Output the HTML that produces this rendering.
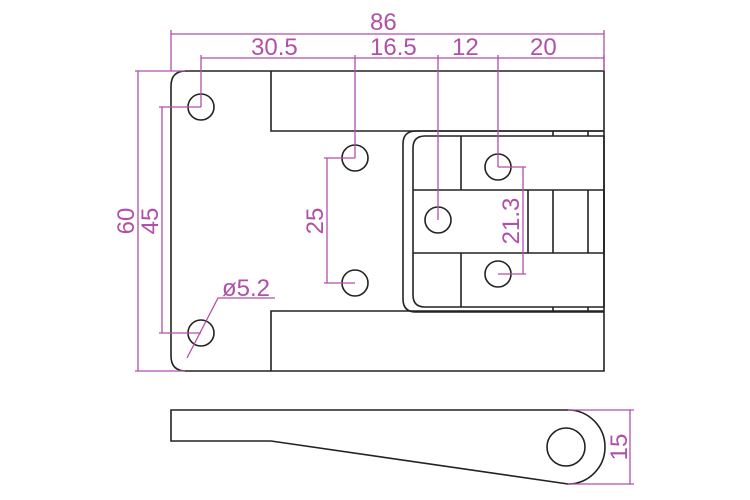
<!DOCTYPE html>
<html><head><meta charset="utf-8"><style>
html,body{margin:0;padding:0;background:#fff;}
svg{display:block}
text{font-family:"Liberation Sans",sans-serif;fill:#b050a8;font-size:24px;}
</style></head><body>
<svg width="750" height="500" viewBox="0 0 750 500" xmlns="http://www.w3.org/2000/svg">
<g fill="none" stroke="#222" stroke-width="1.6">
<path d="M186,71 H604 V371 H186 Q171,371 171,356 V86 Q171,71 186,71 Z"/>
<path d="M271,71 V131 H604"/>
<path d="M271,371 V311 H604"/>
<path d="M604,131 H416 Q403,131 403,144 V299 Q403,312 416,312 H604"/>
<path d="M425,136 H604 V307 H425 Q413,307 413,295 V148 Q413,136 425,136 Z"/>
<path d="M461,136 V190 M461,253 V307 M413,190 H604 M413,253 H604"/>
<path d="M604,190 V253" />
<path d="M528,190 V253 M553,190 V253 M588,190 V253"/>
<path d="M553,131 V136 M588,131 V136 M553,307 V312 M588,307 V312"/>
<circle cx="201" cy="107" r="13"/>
<circle cx="201" cy="333" r="13"/>
<circle cx="355" cy="158" r="13"/>
<circle cx="355" cy="283" r="13"/>
<circle cx="438" cy="220" r="13"/>
<circle cx="498" cy="167" r="13"/>
<circle cx="498" cy="274" r="13"/>
<path d="M171,410 H568 A37,37 0 0 1 568,484 L271,441 H171 Z"/>
<circle cx="566" cy="447" r="19"/>
</g>
<g fill="none" stroke="#b050a8" stroke-width="1.3">
<path d="M171,30 V71 M604,30 V71 M171,34 H604"/>
<path d="M201,55 V107 M355,55 V158 M438,55 V220 M498,55 V167 M604,55 V71"/>
<path d="M201,58 H604"/>
<path d="M135,71 H185 M135,371 H185 M138,71 V371"/>
<path d="M159,107 H201 M159,333 H201 M162,107 V333"/>
<path d="M324,158 H355 M324,283 H355 M327,158 V283"/>
<path d="M498,167 H526 M498,274 H526 M523,167 V274"/>
<path d="M187,358 L218,298 H275"/>
<path d="M568,410 H634 M568,484 H634 M630,410 V484"/>
</g>
<text x="370" y="30">86</text>
<text x="251" y="55">30.5</text>
<text x="370" y="55">16.5</text>
<text x="452" y="55">12</text>
<text x="530" y="55">20</text>
<text x="222" y="296">ø5.2</text>
<text transform="translate(134,221) rotate(-90)" text-anchor="middle">60</text>
<text transform="translate(158,221) rotate(-90)" text-anchor="middle">45</text>
<text transform="translate(323,221) rotate(-90)" text-anchor="middle">25</text>
<text transform="translate(519,221) rotate(-90)" text-anchor="middle">21.3</text>
<text transform="translate(627,447) rotate(-90)" text-anchor="middle">15</text>
</svg>
</body></html>
